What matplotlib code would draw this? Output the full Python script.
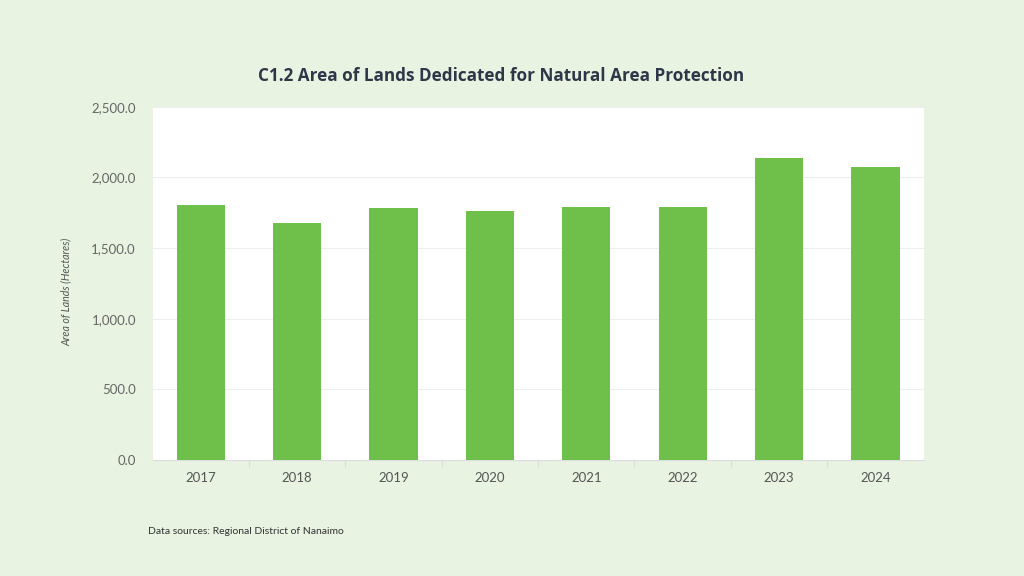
import matplotlib.pyplot as plt
import numpy as np
from matplotlib.ticker import FuncFormatter, FixedLocator

years = ["2017", "2018", "2019", "2020", "2021", "2022", "2023", "2024"]
area_ha = [1804, 1679, 1785, 1760, 1792, 1792, 2139, 2073]

bg = "#e8f3e2"
bar_color = "#6fbf4b"

fig = plt.figure(figsize=(10.24, 5.76), dpi=100, facecolor=bg)
ax = fig.add_axes([0.149, 0.2014, 0.753, 0.6134])
ax.set_facecolor("white")

x = np.arange(len(years))
ax.bar(x, area_ha, width=0.5, color=bar_color, zorder=3)

ax.set_xlim(-0.5, len(years) - 0.5)
ax.set_ylim(0, 2500)
ax.set_yticks(np.arange(0, 2501, 500))
ax.yaxis.set_major_formatter(FuncFormatter(lambda v, p: f"{v:,.1f}"))
ax.grid(axis="y", color="#eeeeee", linewidth=0.8, zorder=0)

ax.set_xticks(x)
ax.set_xticklabels(years)
ax.xaxis.set_minor_locator(FixedLocator(x[:-1] + 0.5))
ax.tick_params(axis="x", which="major", length=0, pad=9, labelsize=9.5, labelcolor="#555555")
ax.tick_params(axis="x", which="minor", length=5, color="#dddddd", width=0.8)
ax.tick_params(axis="y", length=0, pad=12, labelsize=9.5, labelcolor="#666666")
for lbl in ax.get_xticklabels() + ax.get_yticklabels():
    lbl.set_family("Lato")

for s in ["top", "right", "left"]:
    ax.spines[s].set_visible(False)
ax.spines["bottom"].set_color("#dddddd")
ax.spines["bottom"].set_linewidth(0.8)

fig.text(66 / 1024, 1 - 292 / 576, "Area of Lands (Hectares)", rotation=90,
         ha="center", va="center", fontsize=7.7, style="italic", color="#555555",
         family="Lato")

fig.text(501 / 1024, 1 - 76 / 576, "C1.2 Area of Lands Dedicated for Natural Area Protection",
         ha="center", va="center", fontsize=12.3, fontweight="bold", color="#2d3748",
         family="Open Sans")

fig.text(148 / 1024, 1 - 532 / 576, "Data sources: Regional District of Nanaimo",
         ha="left", va="center", fontsize=7.5, color="#333333", family="Lato")

fig.savefig("out.png", dpi=100, facecolor=bg)
